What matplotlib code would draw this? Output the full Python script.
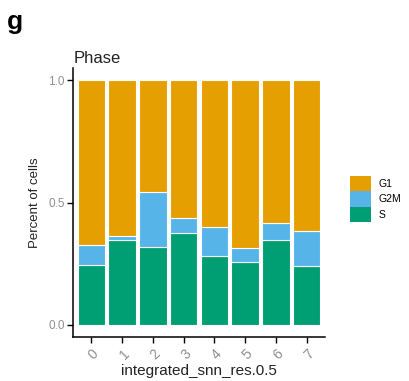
import numpy as np
import matplotlib
matplotlib.use("Agg")
import matplotlib.pyplot as plt
from matplotlib.patches import Patch

plt.rcParams["font.family"] = ["Liberation Sans", "DejaVu Sans"]

# cluster ids and per-cluster cell-cycle fractions (stacked: S, G2M, G1)
clusters = ["0", "1", "2", "3", "4", "5", "6", "7"]
frac_s = [0.245, 0.347, 0.317, 0.374, 0.283, 0.256, 0.347, 0.241]
frac_g2m = [0.082, 0.014, 0.227, 0.064, 0.116, 0.056, 0.071, 0.144]
frac_g1 = [1 - s - g for s, g in zip(frac_s, frac_g2m)]

phases = ["G1", "G2M", "S"]
colors = {"G1": "#E69F00", "G2M": "#56B4E9", "S": "#009E73"}

fig = plt.figure(figsize=(4.09, 3.81), dpi=100)
ax = fig.add_axes([0.1785, 0.1155, 0.616, 0.706])

x = np.arange(len(clusters))
bottom = np.zeros(len(clusters))
for name, vals in [("S", frac_s), ("G2M", frac_g2m), ("G1", frac_g1)]:
    ax.bar(x, vals, width=0.9, bottom=bottom, color=colors[name],
           edgecolor="white", linewidth=0.8)
    bottom += np.array(vals)

ax.set_xlim(-0.6, len(clusters) - 0.4)
ax.set_ylim(-0.05, 1.05)
ax.set_yticks([0.0, 0.5, 1.0])
ax.set_yticklabels(["0.0", "0.5", "1.0"])
ax.set_xticks(x)
ax.set_xticklabels(clusters, rotation=45, ha="right", va="top",
                   rotation_mode="anchor")

for side in ["top", "right"]:
    ax.spines[side].set_visible(False)
for side in ["left", "bottom"]:
    ax.spines[side].set_linewidth(1.1)
    ax.spines[side].set_color("black")
ax.tick_params(axis="both", length=4, width=1, color="black",
               labelcolor="#8f8f8f")
ax.tick_params(axis="y", labelsize=8.5, pad=2)
ax.tick_params(axis="x", labelsize=10, pad=3)

ax.set_xlabel("integrated_snn_res.0.5", fontsize=11, color="#222222", labelpad=1)
ax.set_ylabel("Percent of cells", fontsize=9.5, color="#222222", labelpad=5)

fig.text(74 / 409, 1 - 63 / 381, "Phase", fontsize=12, color="#222222",
         ha="left", va="baseline")
fig.text(7 / 409, 1 - 29 / 381, "g", fontsize=19, fontweight="bold",
         ha="left", va="baseline")

handles = [Patch(facecolor=colors[p], edgecolor="none", label=p) for p in phases]
fig.legend(handles=handles, loc="upper left",
           bbox_to_anchor=(350 / 409, 1 - 176 / 381), frameon=False,
           fontsize=7.5, handlelength=2.0, handleheight=1.9, labelspacing=0.0,
           handletextpad=0.7, borderpad=0, borderaxespad=0)

fig.savefig("out.png", dpi=100)
